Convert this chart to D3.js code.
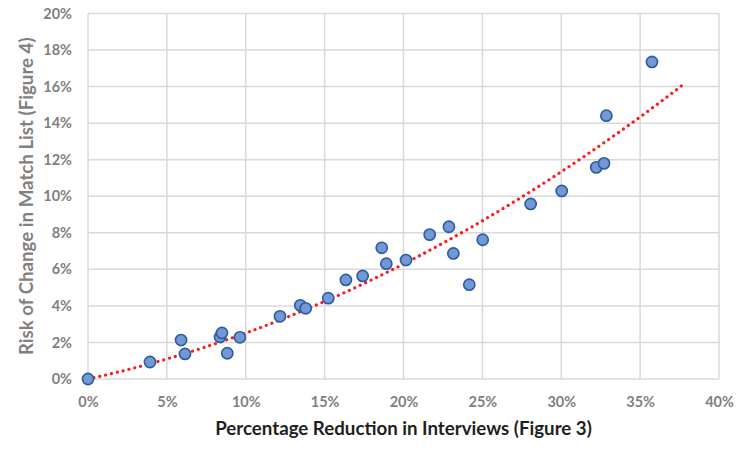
<!DOCTYPE html>
<html>
<head>
<meta charset="utf-8">
<script src="https://cdn.jsdelivr.net/npm/d3@7"></script>
<style>
  body { margin: 0; background: #fff; }
  text { font-family: Lato, "Open Sans", sans-serif; font-weight: bold; }
</style>
</head>
<body>
<div id="plotRegi"></div>
<script>
// Data (fractions)
var interviewReduction = [0.000, 0.0393, 0.059, 0.0615, 0.0837, 0.0849, 0.0883, 0.0963, 0.1217, 0.1346,
                          0.138, 0.1523, 0.1635, 0.1741, 0.1862, 0.1891, 0.2016, 0.2166, 0.2288, 0.2316,
                          0.2417, 0.2502, 0.2806, 0.3003, 0.3222, 0.3271, 0.3286, 0.3575]
var matchListRisk =      [0.000, 0.0093, 0.0213, 0.0137, 0.0230, 0.0252, 0.0141, 0.0228, 0.0343, 0.0403,
                          0.0387, 0.0442, 0.0542, 0.0564, 0.0718, 0.0631, 0.0651, 0.0790, 0.0833, 0.0687,
                          0.0516, 0.0762, 0.0958, 0.1029, 0.1158, 0.1180, 0.1441, 0.1735]
var xTicks = [0, 0.05, 0.10, 0.15, 0.20, 0.25, 0.30, 0.35, 0.40]
var yTicks = [0, 0.02, 0.04, 0.06, 0.08, 0.10, 0.12, 0.14, 0.16, 0.18, 0.20]
var trendEnd = 0.377  // trendline forecast end

var margin = { top: 13.5, right: 31, bottom: 79, left: 88 },
    width = 750 - margin.left - margin.right,
    height = 458 - margin.top - margin.bottom

var scale_x = d3.scaleLinear().domain([0, 0.4]).range([0, width])
var scale_y = d3.scaleLinear().domain([0, 0.2]).range([height, 0])

var svg = d3.select("#plotRegi")
    .append("svg")
    .attr("width", 750)
    .attr("height", 458)

var g = svg.append("g")
    .attr("transform", "translate(" + margin.left + "," + margin.top + ")")

// Gridlines
g.append("g")
    .selectAll("line")
    .data(yTicks)
    .enter()
    .append("line")
    .attr("x1", 0).attr("x2", width)
    .attr("y1", d => scale_y(d)).attr("y2", d => scale_y(d))
    .style("stroke", "#d9d9d9")
    .style("stroke-width", 1.5)

g.append("g")
    .selectAll("line")
    .data(xTicks)
    .enter()
    .append("line")
    .attr("x1", d => scale_x(d)).attr("x2", d => scale_x(d))
    .attr("y1", 0).attr("y2", height)
    .style("stroke", "#d9d9d9")
    .style("stroke-width", 1.5)

// Axes (labels only)
var fmt = d3.format(".0%")
var axisX = g.append("g")
    .attr("transform", "translate(0," + height + ")")
    .call(d3.axisBottom(scale_x).tickValues(xTicks).tickFormat(fmt).tickSize(0).tickPadding(18))
var axisY = g.append("g")
    .call(d3.axisLeft(scale_y).tickValues(yTicks).tickFormat(fmt).tickSize(0).tickPadding(16))
;[axisX, axisY].forEach(a => {
    a.select(".domain").remove()
    a.selectAll("text").style("font-size", "14.5px").style("fill", "#808080")
        .style("font-family", "Lato, sans-serif")
})

// Quadratic trendline through the origin, least squares: y = a*x + b*x^2
function polyFit0(xs, ys) {
    var s2 = 0, s3 = 0, s4 = 0, t1 = 0, t2 = 0
    xs.forEach((x, i) => {
        s2 += x * x; s3 += x * x * x; s4 += x * x * x * x
        t1 += x * ys[i]; t2 += x * x * ys[i]
    })
    var det = s2 * s4 - s3 * s3
    return [(t1 * s4 - t2 * s3) / det, (s2 * t2 - s3 * t1) / det]
}
var coef = polyFit0(interviewReduction, matchListRisk)
var trendX = d3.range(0, trendEnd + 0.0001, trendEnd / 100)
var line = d3.line()
    .x(d => scale_x(d))
    .y(d => scale_y(coef[0] * d + coef[1] * d * d))

g.append("path")
    .datum(trendX)
    .attr("d", line)
    .style("fill", "none")
    .style("stroke", "#ff1a1a")
    .style("stroke-width", 3.2)
    .style("stroke-linecap", "round")
    .style("stroke-dasharray", "0.01 6")

// Points
g.append("g")
    .selectAll("circle")
    .data(interviewReduction)
    .enter()
    .append("circle")
    .attr("cx", d => scale_x(d))
    .attr("cy", (d, i) => scale_y(matchListRisk[i]))
    .attr("r", 5.6)
    .style("fill", "#7398d2")
    .style("stroke", "#2a5ca3")
    .style("stroke-width", 1.6)

// Axis titles
svg.append("text")
    .attr("x", margin.left + width / 2)
    .attr("y", 435)
    .attr("text-anchor", "middle")
    .style("font-size", "18.7px")
    .style("fill", "#1f1f1f")
    .text("Percentage Reduction in Interviews (Figure 3)")

svg.append("text")
    .attr("transform", "translate(33," + (margin.top + height / 2) + ") rotate(-90)")
    .attr("text-anchor", "middle")
    .style("font-size", "18.7px")
    .style("fill", "#808080")
    .text("Risk of Change in Match List (Figure 4)")
</script>
</body>
</html>
